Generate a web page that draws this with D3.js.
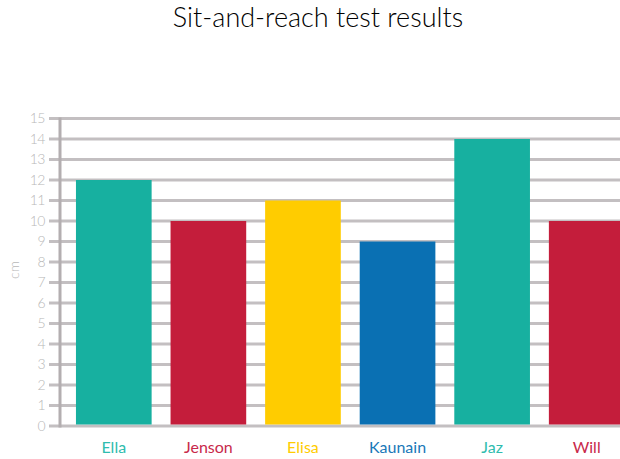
<!DOCTYPE html>
<html>
<head>
<meta charset="utf-8">
<script src="https://d3js.org/d3.v7.min.js"></script>
<style>
  body { margin: 0; background: #fff; }
  text { font-family: Lato, "Open Sans", sans-serif; font-weight: 300; }
  .cat-label { font-weight: 400; }
</style>
</head>
<body>
<div id="chart"></div>
<script>
var names = ["Ella", "Jenson", "Elisa", "Kaunain", "Jaz", "Will"];
var values = [12, 10, 11, 9, 14, 10];
var bar_colors = ["#17b0a0", "#c41d3b", "#ffcc00", "#0a70b3", "#17b0a0", "#c41d3b"];
var label_colors = ["#2fbcae", "#c8294a", "#ffcc00", "#1a78b8", "#2fbcae", "#c8294a"];
var y_ticks = d3.range(0, 16);

var width = 620, height = 459;

var svg = d3.select("#chart")
  .append("svg")
  .attr("width", width)
  .attr("height", height);

var x = d3.scaleBand()
  .domain(names)
  .range([66.5, 634])
  .paddingInner(0.2)
  .paddingOuter(0.1);

var y = d3.scaleLinear()
  .domain([0, 15])
  .range([426, 118.5]);

// gridlines
svg.selectAll(".grid")
  .data(y_ticks)
  .enter()
  .append("line")
  .attr("class", "grid")
  .attr("x1", 49)
  .attr("x2", width)
  .attr("y1", function(d) { return y(d); })
  .attr("y2", function(d) { return y(d); })
  .attr("stroke", "#c3bfc1")
  .attr("stroke-width", 3);

// tick labels
svg.selectAll(".tick-label")
  .data(y_ticks)
  .enter()
  .append("text")
  .attr("class", "tick-label")
  .attr("x", 45)
  .attr("y", function(d) { return y(d); })
  .attr("dy", "0.35em")
  .attr("text-anchor", "end")
  .attr("fill", "#b8b8b8")
  .attr("font-size", "14px")
  .attr("letter-spacing", "-0.5px")
  .text(function(d) { return d; });

// vertical axis line
svg.append("line")
  .attr("x1", 60)
  .attr("x2", 60)
  .attr("y1", y(15) - 1)
  .attr("y2", y(0) + 1.5)
  .attr("stroke", "#b3aeb0")
  .attr("stroke-width", 3);

// bars
svg.selectAll(".bar")
  .data(values)
  .enter()
  .append("rect")
  .attr("class", "bar")
  .attr("x", function(d, i) { return x(names[i]); })
  .attr("y", function(d) { return y(d); })
  .attr("width", x.bandwidth())
  .attr("height", function(d) { return y(0) - y(d) - 1.5; })
  .attr("fill", function(d, i) { return bar_colors[i]; });

// category labels
svg.selectAll(".cat-label")
  .data(names)
  .enter()
  .append("text")
  .attr("class", "cat-label")
  .attr("x", function(d) { return x(d) + x.bandwidth() / 2; })
  .attr("y", 453)
  .attr("text-anchor", "middle")
  .attr("fill", function(d, i) { return label_colors[i]; })
  .attr("font-size", "16px")
  .text(function(d) { return d; });

// y axis title
svg.append("text")
  .attr("transform", "translate(19,270) rotate(-90)")
  .attr("text-anchor", "middle")
  .attr("fill", "#b8b8b8")
  .attr("font-size", "14px")
  .text("cm");

// chart title
svg.append("text")
  .attr("x", 318)
  .attr("y", 27)
  .attr("text-anchor", "middle")
  .attr("fill", "#000")
  .attr("font-size", "27px")
  .text("Sit-and-reach test results");
</script>
</body>
</html>
